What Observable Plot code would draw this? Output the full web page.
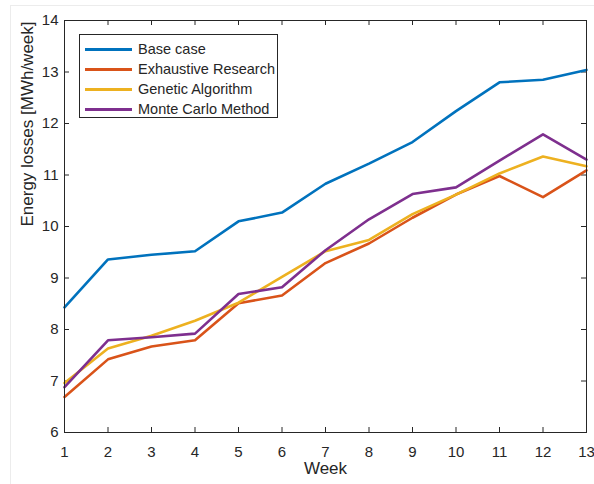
<!DOCTYPE html>
<html><head><meta charset="utf-8">
<script src="https://cdn.jsdelivr.net/npm/d3@7"></script>
<script src="https://cdn.jsdelivr.net/npm/@observablehq/plot@0.6"></script>
<style>
body{margin:0;background:#fff;}
#wrap{position:relative;width:594px;height:484px;font-family:"Liberation Sans",Arial,sans-serif;color:#262626;}
#wrap svg g[aria-label$="tick label"]{font-size:15px;}
#edge{position:absolute;left:10px;top:5px;right:0;bottom:0;border-left:1px solid #ececec;border-top:1px solid #ececec;pointer-events:none;}
#legend{position:absolute;left:79px;top:34px;width:199px;height:84px;border:1px solid #262626;background:#fff;box-sizing:border-box;padding-top:4px;}
.row{display:flex;align-items:center;height:20px;font-size:14.5px;}
.sw{width:47px;height:3px;margin-left:5px;margin-right:6px;}
</style></head><body><div id="wrap"><div id="edge"></div></div>
<script>
const weeks = [1,2,3,4,5,6,7,8,9,10,11,12,13];
const seriesNames = ["Base case","Exhaustive Research","Genetic Algorithm","Monte Carlo Method"];
const baseCase   = [8.43,9.36,9.45,9.52,10.10,10.27,10.83,11.22,11.64,12.24,12.80,12.85,13.04];
const exhaustive = [6.69,7.42,7.67,7.79,8.51,8.66,9.29,9.67,10.17,10.62,10.98,10.57,11.09];
const genetic    = [6.96,7.63,7.88,8.17,8.52,9.02,9.52,9.74,10.24,10.62,11.03,11.36,11.17];
const monteCarlo = [6.88,7.79,7.85,7.92,8.69,8.82,9.54,10.14,10.63,10.76,11.28,11.79,11.30];
const colors = ["#0072BD","#D95319","#EDB120","#7E2F8E"];
const yTicks = [6,7,8,9,10,11,12,13,14];

const allValues = [baseCase, exhaustive, genetic, monteCarlo];
const data = seriesNames.flatMap((name, i) => weeks.map((w, j) => ({series: name, week: w, value: allValues[i][j]})));

const ink = "#262626";
const W = 594, H = 484, mL = 64, mR = 8, mT = 20, mB = 52;
const frameW = W - mL - mR, frameH = H - mT - mB, tick = 5;
const plot = Plot.plot({
  width: W, height: H,
  marginLeft: mL, marginRight: mR, marginTop: mT, marginBottom: mB,
  style: {fontFamily: '"Liberation Sans", Arial, sans-serif', fontSize: "15px", color: ink, background: "transparent"},
  x: {domain: [1, 13], label: null},
  y: {domain: [6, 14], label: null},
  color: {domain: seriesNames, range: colors},
  marks: [
    Plot.axisX(weeks, {anchor: "bottom", tickSize: 0, tickPadding: 14, tickFormat: d => String(d), fontSize: 15, fill: ink, label: null}),
    Plot.axisY(yTicks, {anchor: "left", tickSize: 0, tickPadding: 6, tickFormat: d => String(d), fontSize: 15, fill: ink, label: null}),
    Plot.tickX(weeks, {x: d => d, insetTop: frameH - tick, stroke: ink}),
    Plot.tickX(weeks, {x: d => d, insetBottom: frameH - tick, stroke: ink}),
    Plot.tickY(yTicks, {y: d => d, insetRight: frameW - tick, stroke: ink}),
    Plot.tickY(yTicks, {y: d => d, insetLeft: frameW - tick, stroke: ink}),
    Plot.line(data, {x: "week", y: "value", z: "series", stroke: "series", strokeWidth: 2.6}),
    Plot.frame({stroke: ink, strokeWidth: 1}),
    Plot.text(["Week"], {frameAnchor: "bottom", dy: 41, fontSize: 17, fill: ink}),
    Plot.text(["Energy losses [MWh/week]"], {frameAnchor: "left", rotate: -90, dx: -37, fontSize: 17, fill: ink})
  ]
});
const wrap = document.getElementById("wrap");
wrap.insertBefore(plot, wrap.firstChild);

const legend = document.createElement("div");
legend.id = "legend";
seriesNames.forEach((name, i) => {
  const row = document.createElement("div");
  row.className = "row";
  const sw = document.createElement("div");
  sw.className = "sw";
  sw.style.background = colors[i];
  const t = document.createElement("span");
  t.textContent = name;
  row.appendChild(sw); row.appendChild(t);
  legend.appendChild(row);
});
wrap.appendChild(legend);
</script>
</body></html>
